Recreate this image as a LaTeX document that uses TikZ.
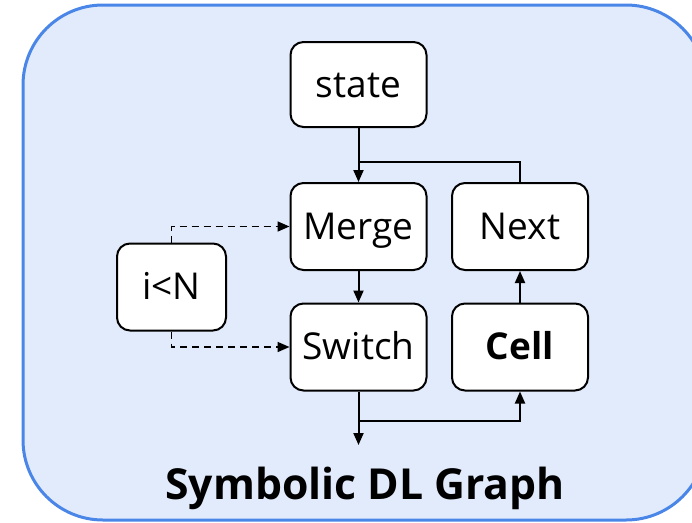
\documentclass[tikz,border=0pt]{standalone}
\usepackage{fontspec}
\setmainfont{Open Sans}
\usetikzlibrary{arrows.meta}
\definecolor{panelfill}{RGB}{226,235,251}
\definecolor{panelline}{RGB}{74,134,232}
\begin{document}
\begin{tikzpicture}[x=1pt,y=-1pt,
  op/.style={draw=black, line width=2pt, fill=white, rounded corners=13pt,
    minimum width=136pt, minimum height=87pt, inner sep=0pt,
    text height=27pt, text depth=2pt,
    font=\fontsize{37}{44}\selectfont},
  link/.style={line width=2pt},
  flow/.style={link, -{Triangle[length=12pt,width=10pt]}},
  ctrl/.style={flow, line width=1.7pt, dash pattern=on 7pt off 5pt}]
  \useasboundingbox (0,0) rectangle (692,522);
  % panel
  \draw[panelline, fill=panelfill, line width=3pt, rounded corners=80pt]
    (23,5) rectangle (706,520);
  % operators
  \node[op, minimum height=85pt] (state) at (358.5,84.5) {state};
  \node[op] (merge) at (358.5,226.5) {Merge};
  \node[op] (next) at (520,226.5) {Next};
  \node[op] (switch) at (358.5,347) {Switch};
  \node[op, font=\bfseries\fontsize{37}{44}\selectfont] (cell) at (520,347) {Cell};
  \node[op, minimum width=109pt] (cond) at (171.5,287) {i<N};
  % data flow
  \coordinate (join) at (358.5,162);
  \coordinate (fork) at (358.5,421);
  \coordinate (out) at (358.5,445);
  \draw[flow] (state.south) -- (merge.north);
  \draw[link] (next.north) |- (join);
  \draw[flow] (merge.south) -- (switch.north);
  \draw[flow] (switch.south) -- (out);
  \draw[flow] (fork) -| (cell.south);
  \draw[flow] (cell.north) -- (next.south);
  % loop condition
  \draw[ctrl] (cond.north) |- (merge.west);
  \draw[ctrl] (cond.south) |- (switch.west);
  % caption
  \node[anchor=base, font=\bfseries\fontsize{42.7}{50}\selectfont] (title) at (365,499) {Symbolic DL Graph};
\end{tikzpicture}
\end{document}
